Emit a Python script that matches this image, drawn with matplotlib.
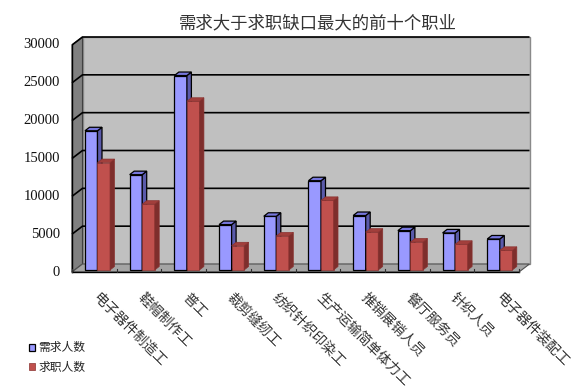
import matplotlib
matplotlib.use('Agg')
import matplotlib.pyplot as plt
from matplotlib.patches import Polygon
import matplotlib.transforms as mtransforms
import numpy as np

plt.rcParams['font.family'] = ['Noto Sans CJK SC', 'DejaVu Sans']

categories = ['电子器件制造工', '鞋帽制作工', '普工', '裁剪缝纫工', '纺织针织印染工',
              '生产运输简单体力工', '推销展销人员', '餐厅服务员', '针织人员', '电子器件装配工']
demand = [18400, 12600, 25700, 6000, 7100, 11800, 7200, 5200, 4900, 4100]
seekers = [14200, 8700, 22300, 3200, 4500, 9200, 5000, 3700, 3400, 2600]
series_names = ['需求人数', '求职人数']
yticks = [0, 5000, 10000, 15000, 20000, 25000, 30000]
title = '需求大于求职缺口最大的前十个职业'

W, H, DPI = 574, 388, 100
fig = plt.figure(figsize=(W / DPI, H / DPI), dpi=DPI)
fig.patch.set_facecolor('white')
ax = fig.add_axes([72 / W, (H - 272) / H, 447 / W, 227 / H])
n = len(categories)
ymax = yticks[-1]
ax.set_xlim(-0.5, n - 0.5)
ax.set_ylim(0, ymax)
ax.axis('off')

ppx = ax.bbox.width / n
ppy = ax.bbox.height / ymax


def off(px, py):
    return px / ppx, py / ppy


def poly(pts, **kw):
    p = Polygon(pts, closed=True, clip_on=False, **kw)
    ax.add_patch(p)
    return p


x0, x1 = -0.5, n - 0.5
BDX, BDY = off(10.5, 8)

# walls and floor
poly([(x0 + BDX, BDY), (x1 + BDX, BDY), (x1 + BDX, ymax + BDY), (x0 + BDX, ymax + BDY)],
     facecolor='#C0C0C0', edgecolor='#8A8A8A', lw=1.0, zorder=1)
poly([(x0, 0), (x0, ymax), (x0 + BDX, ymax + BDY), (x0 + BDX, BDY)],
     facecolor='#808080', edgecolor='#404040', lw=0.8, zorder=1)
poly([(x0, 0), (x1, 0), (x1 + BDX, BDY), (x0 + BDX, BDY)],
     facecolor='#A4A4A4', edgecolor='#505050', lw=0.8, zorder=1)

for t in yticks[1:]:
    ax.plot([x0, x0 + BDX, x1 + BDX], [t, t + BDY, t + BDY], color='black',
            lw=1.2, zorder=2, clip_on=False, solid_capstyle='butt')

# front axis lines
ax.plot([x0, x0], [0, ymax], color='black', lw=1.0, zorder=2, clip_on=False)
ax.plot([x0, x1], [0, 0], color='black', lw=1.0, zorder=2, clip_on=False)
tdx, tdy = off(0, 3)
for b in np.arange(n + 1) - 0.5:
    ax.plot([b, b], [0, tdy], color='#303030', lw=0.8, zorder=2, clip_on=False)

# bars
bw = 0.28
BPX, BPY = off(2.7, 2)
DX, DY = off(4.5, 3.5)
xs = np.arange(n)


def bars3d(xleft, vals, front, top, side, edge, lw, z, label):
    cont = ax.bar(xleft + BPX, vals, width=bw, bottom=BPY, align='edge', color=front,
                  edgecolor=edge, linewidth=lw, zorder=z, label=label)
    for xl, v in zip(xleft + BPX, vals):
        xr = xl + bw
        yt = v + BPY
        poly([(xr, BPY), (xr + DX, BPY + DY), (xr + DX, yt + DY), (xr, yt)],
             facecolor=side, edgecolor=edge, lw=lw, zorder=z)
        poly([(xl, yt), (xr, yt), (xr + DX, yt + DY), (xl + DX, yt + DY)],
             facecolor=top, edgecolor=edge, lw=lw, zorder=z)
    return cont


hb = bars3d(xs - 0.27, np.array(demand), '#9999FF', '#7777DD', '#5A5AAA', 'black', 0.9, 3, series_names[0])
hr = bars3d(xs + 0.01, np.array(seekers), '#C0504D', '#A23F3C', '#7E2E2C', '#8A3230', 0.5, 4, series_names[1])

# y tick labels
ytr = mtransforms.offset_copy(ax.get_yaxis_transform(), fig, x=-12, y=0, units='dots')
for t in yticks:
    ax.text(0, t, f'{t}', transform=ytr, ha='right', va='center',
            fontsize=10.5, family=['Liberation Serif', 'DejaVu Serif'], color='#111111')

# x tick labels
xtr = mtransforms.offset_copy(ax.get_xaxis_transform(), fig, x=1, y=-23, units='dots')
for i, c in enumerate(categories):
    ax.text(i, 0, c, transform=xtr, rotation=-45, rotation_mode='anchor',
            ha='left', va='center', fontsize=10, color='#333333')

fig.text(318 / W, 1 - 23 / H, title, ha='center', va='center', fontsize=12.5, color='#333333')

fig.legend(handles=[hb, hr], labels=series_names, loc='center left',
           bbox_to_anchor=(29 / W, (H - 357.5) / H), frameon=False, fontsize=8.5,
           handlelength=0.55, handleheight=0.55, handletextpad=0.25, borderpad=0,
           borderaxespad=0, labelspacing=0.55, labelcolor='#222222')

fig.savefig('out.png', dpi=DPI)
